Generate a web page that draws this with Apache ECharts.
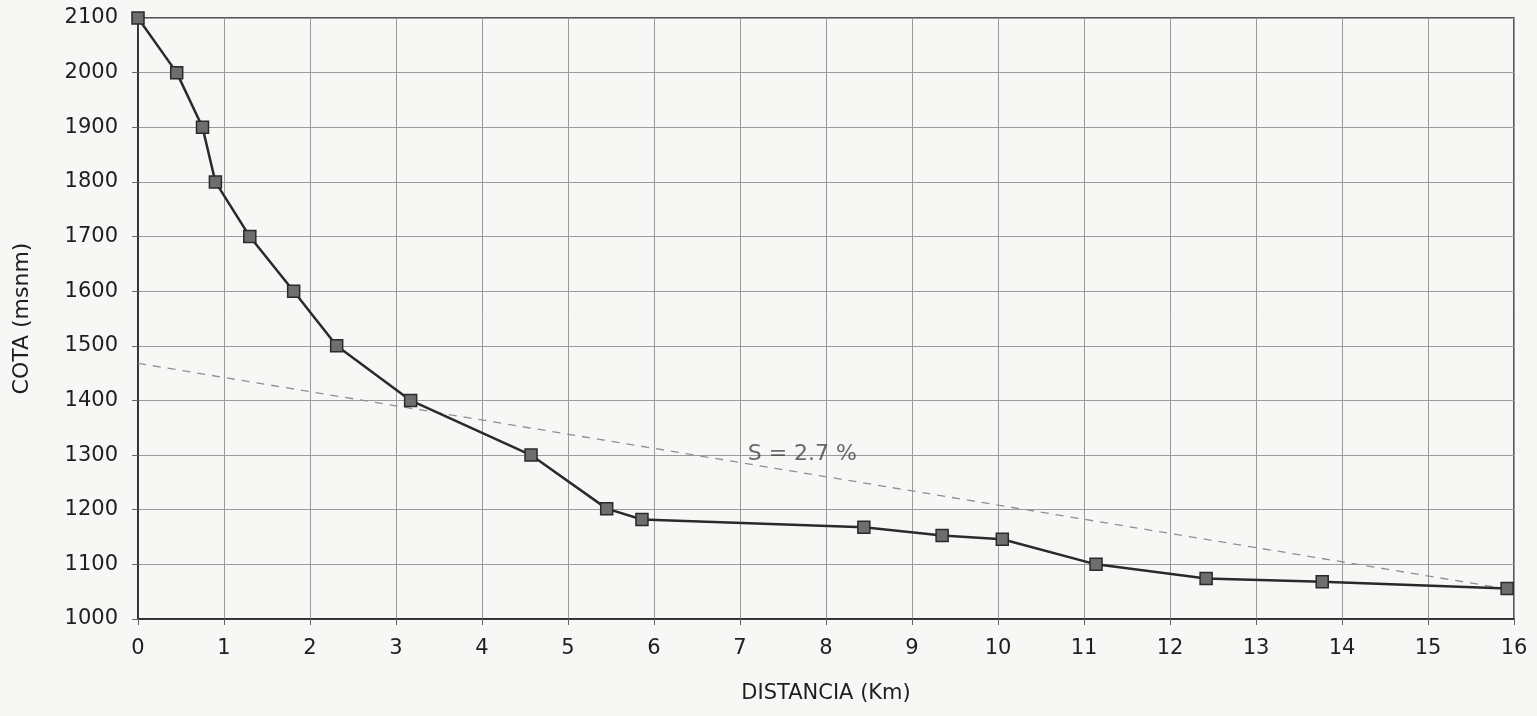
<!DOCTYPE html>
<html>
<head>
<meta charset="utf-8">
<script src="https://cdn.jsdelivr.net/npm/echarts@6/dist/echarts.min.js"></script>
<style>
html,body{margin:0;padding:0;background:#f7f7f6;}
#chart{width:1537px;height:716px;}
</style>
</head>
<body>
<div id="chart"></div>
<script>
// Perfil longitudinal: distancia (km) vs cota (msnm)
const distanciaKm = [0, 0.45, 0.75, 0.90, 1.30, 1.81, 2.31, 3.17, 4.57, 5.45, 5.86, 8.44, 9.35, 10.05, 11.14, 12.42, 13.77, 15.92];
const cotaMsnm    = [2100, 2000, 1900, 1800, 1700, 1600, 1500, 1400, 1300, 1202, 1182, 1168, 1153, 1146, 1100, 1074, 1068, 1056];

// Línea de pendiente media (discontinua)
const pendienteKm   = [0, 15.8];
const pendienteCota = [1468, 1058];

// Etiqueta de la pendiente
const etiquetaPendiente = { km: 7.09, cota: 1302, texto: 'S = 2.7 %' };

const xTitulo = 'DISTANCIA (Km)';
const yTitulo = 'COTA (msnm)';

const perfil = distanciaKm.map((d, i) => [d, cotaMsnm[i]]);
const pendiente = pendienteKm.map((d, i) => [d, pendienteCota[i]]);

const FONT = 'DejaVu Sans';
const TXT = '#1e1e1e';
const chart = echarts.init(document.getElementById('chart'), null, { renderer: 'canvas' });

chart.setOption({
  backgroundColor: '#f7f7f6',
  animation: false,
  grid: {
    left: 138, right: 23, top: 18, bottom: 97,
    show: true, borderColor: '#222', borderWidth: 1.5, backgroundColor: 'transparent'
  },
  xAxis: {
    type: 'value', min: 0, max: 16, interval: 1,
    name: xTitulo, nameLocation: 'middle', nameGap: 64,
    nameTextStyle: { fontFamily: FONT, fontSize: 21, color: TXT },
    axisLine: { show: true, lineStyle: { color: '#222', width: 1.5 } },
    axisTick: { show: true, length: 6, lineStyle: { color: '#666' } },
    axisLabel: { fontFamily: FONT, fontSize: 21, color: TXT, margin: 19, formatter: v => String(v) },
    splitLine: { show: true, lineStyle: { color: '#9a9a9a', width: 1 } }
  },
  yAxis: {
    type: 'value', min: 1000, max: 2100, interval: 100,
    name: yTitulo, nameLocation: 'middle', nameGap: 105, nameRotate: 90,
    nameTextStyle: { fontFamily: FONT, fontSize: 22, color: TXT },
    axisLine: { show: true, lineStyle: { color: '#222', width: 1.5 } },
    axisTick: { show: true, length: 6, lineStyle: { color: '#666' } },
    axisLabel: { fontFamily: FONT, fontSize: 21, color: TXT, margin: 20, formatter: v => String(v) },
    splitLine: { show: true, lineStyle: { color: '#9a9a9a', width: 1 } }
  },
  series: [
    {
      name: 'Pendiente', type: 'line', data: pendiente,
      symbol: 'none', silent: true, z: 2,
      lineStyle: { color: '#8f8f8f', width: 1.3, type: [8, 7] }
    },
    {
      name: 'Perfil', type: 'line', data: perfil,
      symbol: 'rect', symbolSize: 12, z: 3,
      lineStyle: { color: '#2a2a2a', width: 2.5 },
      itemStyle: { color: '#6e6e6e', borderColor: '#2a2a2a', borderWidth: 1.5 }
    },
    {
      name: 'Etiqueta', type: 'scatter', symbolSize: 0, silent: true, z: 4,
      data: [[etiquetaPendiente.km, etiquetaPendiente.cota]],
      label: {
        show: true, position: 'right', distance: 0,
        formatter: () => etiquetaPendiente.texto,
        fontFamily: FONT, fontSize: 22, color: '#444'
      }
    }
  ]
});
</script>
</body>
</html>
